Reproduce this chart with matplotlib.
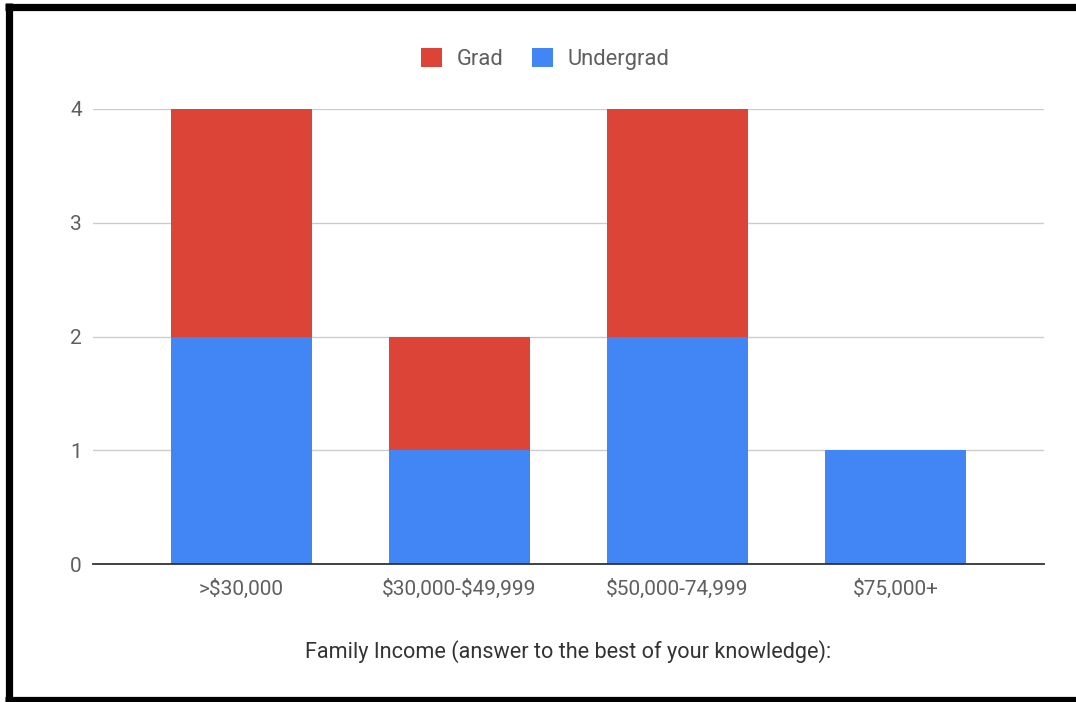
import matplotlib.pyplot as plt
from matplotlib.lines import Line2D
import numpy as np

plt.rcParams['font.family'] = ['Roboto', 'DejaVu Sans']
plt.rcParams['text.parse_math'] = False

categories = [">$30,000", "$30,000-$49,999", "$50,000-74,999", "$75,000+"]
undergrad = [2, 1, 2, 1]
grad = [2, 1, 2, 0]

red = "#DB4437"
blue = "#4285F4"
text_color = "#5f5f5f"

W, H = 1076, 702
fig = plt.figure(figsize=(W / 100, H / 100), dpi=100)
ax = fig.add_axes([93 / W, 1 - 564 / H, (1044 - 93) / W, (564 - 109) / H])

x = np.arange(len(categories))
ax.bar(x, undergrad, width=0.647, color=blue, label="Undergrad", zorder=2)
ax.bar(x, grad, width=0.647, bottom=undergrad, color=red, label="Grad", zorder=2)

ax.set_xlim(-0.681, 3.681)
ax.set_ylim(0, 4)
ax.set_yticks([0, 1, 2, 3, 4])
ax.set_xticks(x)
ax.set_xticklabels(categories)
ax.tick_params(axis='both', length=0, labelsize=15, labelcolor=text_color)
ax.tick_params(axis='x', pad=10.5)
ax.tick_params(axis='y', pad=8)
ax.yaxis.grid(True, color="#cccccc", linewidth=1, zorder=0)
for side in ['top', 'right', 'left']:
    ax.spines[side].set_visible(False)
ax.spines['bottom'].set_color("#333333")
ax.spines['bottom'].set_linewidth(1.3)
ax.spines['bottom'].set_zorder(3)

ax.set_xlabel("Family Income (answer to the best of your knowledge):",
              fontsize=15.6, color="#333333", labelpad=30)

# legend with Grad first, then Undergrad
handles, labels = ax.get_legend_handles_labels()
leg = fig.legend(handles[::-1], labels[::-1], loc='center', bbox_to_anchor=(545 / W, 1 - 59 / H),
                 ncol=2, frameon=False, fontsize=15.8, handlelength=0.95, handleheight=0.95,
                 columnspacing=1.3, handletextpad=0.68, labelcolor=text_color)

# heavy black frame on the left, top and bottom
def px(xp, yp):
    return xp / W, 1 - yp / H

for (x0, y0), (x1, y1) in [((8.5, 3), (8.5, 702)), ((5, 6.5), (1076, 6.5)), ((5, 700), (1076, 700))]:
    (fx0, fy0), (fx1, fy1) = px(x0, y0), px(x1, y1)
    fig.add_artist(Line2D([fx0, fx1], [fy0, fy1], transform=fig.transFigure,
                          color='black', linewidth=5.2, solid_capstyle='butt', zorder=10))

fig.savefig("out.png", dpi=100)
